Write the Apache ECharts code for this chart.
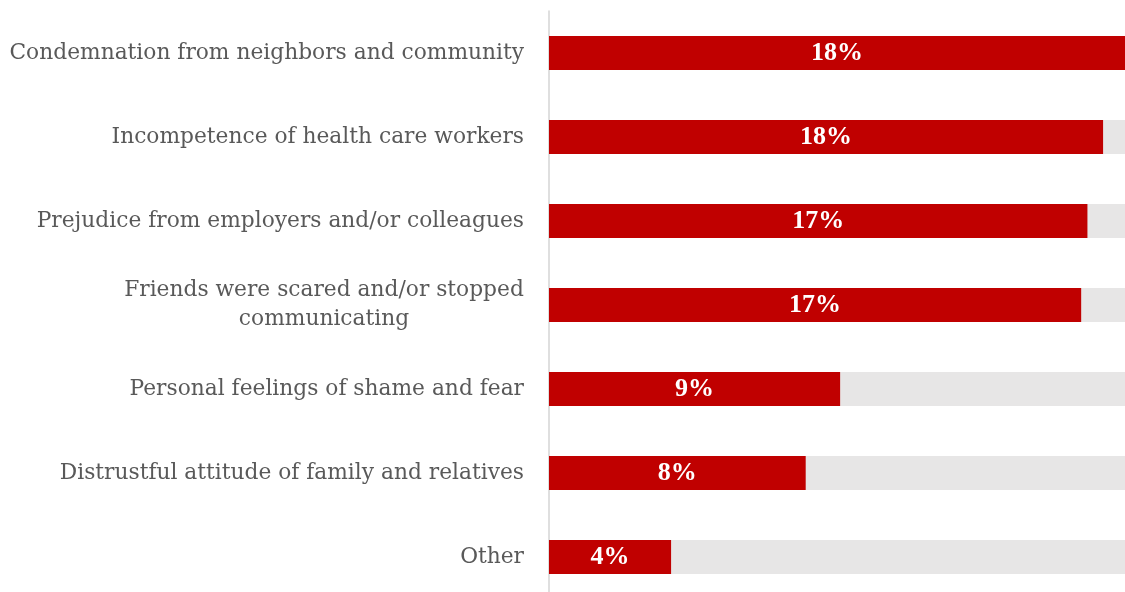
<!DOCTYPE html>
<html>
<head>
<meta charset="utf-8">
<script src="https://cdn.jsdelivr.net/npm/echarts@6/dist/echarts.min.js"></script>
<style>
  html, body { margin: 0; padding: 0; background: #ffffff; }
  #chart { width: 1125px; height: 592px; }
</style>
</head>
<body>
<div id="chart"></div>
<script>
// Reasons for stigma reported by respondents (share, %)
const categories = [
  'Condemnation from neighbors and community',
  'Incompetence of health care workers',
  'Prejudice from employers and/or colleagues',
  'Friends were scared and/or stopped\ncommunicating',
  'Personal feelings of shame and fear',
  'Distrustful attitude of family and relatives',
  'Other'
];
const shares = [18.4, 17.7, 17.2, 17.0, 9.3, 8.2, 3.9];

const LABEL_FONT = '"DejaVu Serif", "Liberation Serif", serif';
const VALUE_FONT = '"Liberation Serif", "DejaVu Serif", serif';
const LABEL_SIZE = 21.75;

// width of a single text line, used to centre the lines of wrapped labels
const measureCtx = document.createElement('canvas').getContext('2d');
function textWidth(s) {
  measureCtx.font = LABEL_SIZE + 'px ' + LABEL_FONT;
  return Math.ceil(measureCtx.measureText(s).width);
}

const chart = echarts.init(document.getElementById('chart'), null, { renderer: 'canvas' });

chart.setOption({
  animation: false,
  backgroundColor: '#ffffff',
  grid: {
    left: 549, right: 0, top: 11, height: 588,
    containLabel: false,
    outerBoundsMode: 'none'
  },
  xAxis: {
    type: 'value',
    min: 0,
    max: 'dataMax',
    show: false
  },
  yAxis: {
    type: 'category',
    inverse: true,
    data: categories,
    axisLine: { show: true, lineStyle: { color: '#d4d4d4', width: 1.5 } },
    axisTick: { show: false },
    splitLine: { show: false },
    axisLabel: {
      margin: 25,
      color: '#595959',
      fontFamily: LABEL_FONT,
      fontSize: LABEL_SIZE,
      lineHeight: 29,
      align: 'right',
      formatter: function (v) {
        const lines = v.split('\n');
        if (lines.length === 1) return v;
        return lines.map(function (l) { return '{c|' + l + '}'; }).join('\n');
      },
      rich: {
        c: {
          width: textWidth(categories[3].split('\n')[0]),
          align: 'center',
          color: '#595959',
          fontFamily: LABEL_FONT,
          fontSize: LABEL_SIZE,
          lineHeight: 29
        }
      }
    }
  },
  series: [{
    type: 'bar',
    data: shares,
    barWidth: 34,
    itemStyle: { color: '#c00000' },
    showBackground: true,
    backgroundStyle: { color: '#e7e6e6' },
    label: {
      show: true,
      position: 'inside',
      color: '#ffffff',
      fontFamily: VALUE_FONT,
      fontWeight: 'bold',
      fontSize: 26,
      formatter: function (p) { return Math.round(p.value) + '%'; }
    }
  }]
});
</script>
</body>
</html>
